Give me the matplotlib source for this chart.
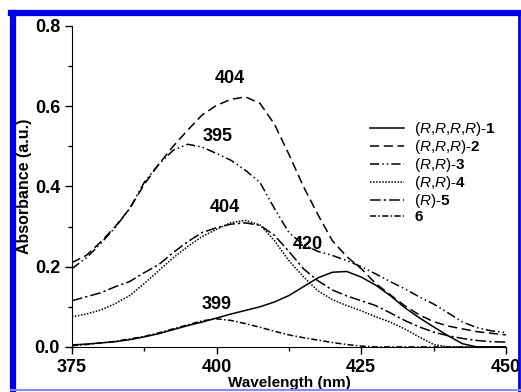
import matplotlib
matplotlib.use('Agg')
import matplotlib.pyplot as plt
from matplotlib.lines import Line2D

plt.rcParams['font.family'] = 'Liberation Sans'
plt.rcParams['mathtext.fontset'] = 'custom'
plt.rcParams['mathtext.rm'] = 'Liberation Sans'
plt.rcParams['mathtext.it'] = 'Liberation Sans:italic'
plt.rcParams['mathtext.bf'] = 'Liberation Sans:bold'

# wavelength grid (nm)
wavelength = [375, 377.5, 380, 382.5, 385, 387.5, 390, 392.5, 395, 397.5,
              400, 402.5, 405, 407.5, 410, 412.5, 415, 417.5, 420, 422.5,
              425, 427.5, 430, 432.5, 435, 437.5, 440, 442.5, 445, 447.5, 450]

abs_1 = [0.005, 0.007, 0.010, 0.013, 0.018, 0.025, 0.033, 0.043, 0.053, 0.062,
         0.072, 0.082, 0.091, 0.100, 0.112, 0.128, 0.150, 0.172, 0.186, 0.188,
         0.174, 0.154, 0.128, 0.098, 0.073, 0.050, 0.028, 0.008, 0.0, 0.0, 0.0]
abs_2 = [0.210, 0.228, 0.262, 0.300, 0.345, 0.405, 0.455, 0.500, 0.540, 0.578,
         0.602, 0.617, 0.623, 0.607, 0.555, 0.480, 0.400, 0.330, 0.265, 0.225,
         0.195, 0.158, 0.130, 0.103, 0.080, 0.063, 0.052, 0.045, 0.038, 0.034, 0.030]
abs_3 = [0.195, 0.222, 0.258, 0.298, 0.345, 0.410, 0.455, 0.490, 0.505, 0.498,
         0.482, 0.465, 0.440, 0.410, 0.345, 0.285, 0.255, 0.238, 0.228, 0.215,
         0.200, 0.182, 0.163, 0.145, 0.125, 0.107, 0.085, 0.062, 0.048, 0.040, 0.036]
abs_4 = [0.075, 0.082, 0.092, 0.108, 0.128, 0.158, 0.190, 0.222, 0.250, 0.275,
         0.293, 0.310, 0.315, 0.304, 0.265, 0.215, 0.175, 0.140, 0.118, 0.103,
         0.090, 0.075, 0.062, 0.045, 0.025, 0.006, 0.0, 0.0, 0.0, 0.0, 0.0]
abs_5 = [0.115, 0.125, 0.135, 0.150, 0.163, 0.185, 0.205, 0.235, 0.262, 0.285,
         0.297, 0.306, 0.309, 0.303, 0.278, 0.238, 0.195, 0.165, 0.142, 0.127,
         0.115, 0.103, 0.085, 0.066, 0.050, 0.037, 0.028, 0.021, 0.016, 0.013, 0.012]
abs_6 = [0.003, 0.006, 0.010, 0.014, 0.020, 0.026, 0.035, 0.045, 0.055, 0.065,
         0.070, 0.066, 0.058, 0.049, 0.039, 0.030, 0.023, 0.017, 0.011, 0.006,
         0.002, 0.0, 0.0, 0.0, 0.0, 0.0, 0.0, 0.0, 0.0, 0.0, 0.0]

labels = [r'($\mathit{R}$,$\mathit{R}$,$\mathit{R}$,$\mathit{R}$)-$\mathbf{1}$',
          r'($\mathit{R}$,$\mathit{R}$,$\mathit{R}$)-$\mathbf{2}$',
          r'($\mathit{R}$,$\mathit{R}$)-$\mathbf{3}$',
          r'($\mathit{R}$,$\mathit{R}$)-$\mathbf{4}$',
          r'($\mathit{R}$)-$\mathbf{5}$',
          r'$\mathbf{6}$']

peak_text = ['404', '395', '404', '420', '399']
peak_x = [402.3, 400.2, 401.4, 415.8, 400.0]
peak_y = [0.670, 0.524, 0.347, 0.254, 0.105]

styles = ['-', (0, (6, 3)), (0, (6, 2, 1, 2, 1, 2)), (0, (1, 1)),
          (0, (7, 2, 1.5, 2)), (0, (4, 1.5, 1, 1.5))]

fig = plt.figure(figsize=(5.21, 3.92), dpi=100)
ax = fig.add_axes([0.138, 0.115, 0.833, 0.819])

series = [abs_1, abs_2, abs_3, abs_4, abs_5, abs_6]
handles = []
for ys, ls, lab in zip(series, styles, labels):
    h, = ax.plot(wavelength, ys, color='black', linestyle=ls, linewidth=1.1, label=lab)
    handles.append(h)

for t, x, y in zip(peak_text, peak_x, peak_y):
    ax.text(x, y, t, ha='center', va='center', fontsize=13, fontweight='bold')

ax.set_xlim(375, 450)
ax.set_ylim(0, 0.8)
ax.set_xticks([375, 400, 425, 450])
ax.set_xticks([387.5, 412.5, 437.5], minor=True)
ax.set_yticks([0.0, 0.2, 0.4, 0.6, 0.8])
ax.set_yticks([0.1, 0.3, 0.5, 0.7], minor=True)
ax.set_yticklabels(['0.0', '0.2', '0.4', '0.6', '0.8'])
ax.tick_params(which='major', direction='out', length=5, width=1, labelsize=13)
ax.tick_params(which='minor', direction='out', length=3, width=1)
for lab in ax.get_xticklabels() + ax.get_yticklabels():
    lab.set_fontweight('bold')
ax.spines['top'].set_visible(False)
ax.spines['right'].set_visible(False)
ax.set_xlabel('Wavelength (nm)', fontsize=11, fontweight='bold', labelpad=0)
ax.set_ylabel('Absorbance (a.u.)', fontsize=11.5, fontweight='bold', labelpad=2)

ax.legend(handles=handles, loc='upper left', bbox_to_anchor=(0.687, 0.706),
          frameon=False, fontsize=11, handlelength=2.2, handletextpad=0.7,
          labelspacing=0.0, borderpad=0, borderaxespad=0)

# blue frame around the figure
blue = '#0000ee'
fig.add_artist(Line2D([0.025, 0.025], [0.0, 0.968], color=blue, linewidth=4.5))
fig.add_artist(Line2D([0.021, 1.0], [0.968, 0.968], color=blue, linewidth=4.5))
fig.add_artist(Line2D([0.996, 0.996], [0.0, 0.968], color=blue, linewidth=2))
fig.add_artist(Line2D([0.021, 1.0], [0.004, 0.004], color='#8888ff', linewidth=1.5))

fig.savefig('out.png', dpi=100)
